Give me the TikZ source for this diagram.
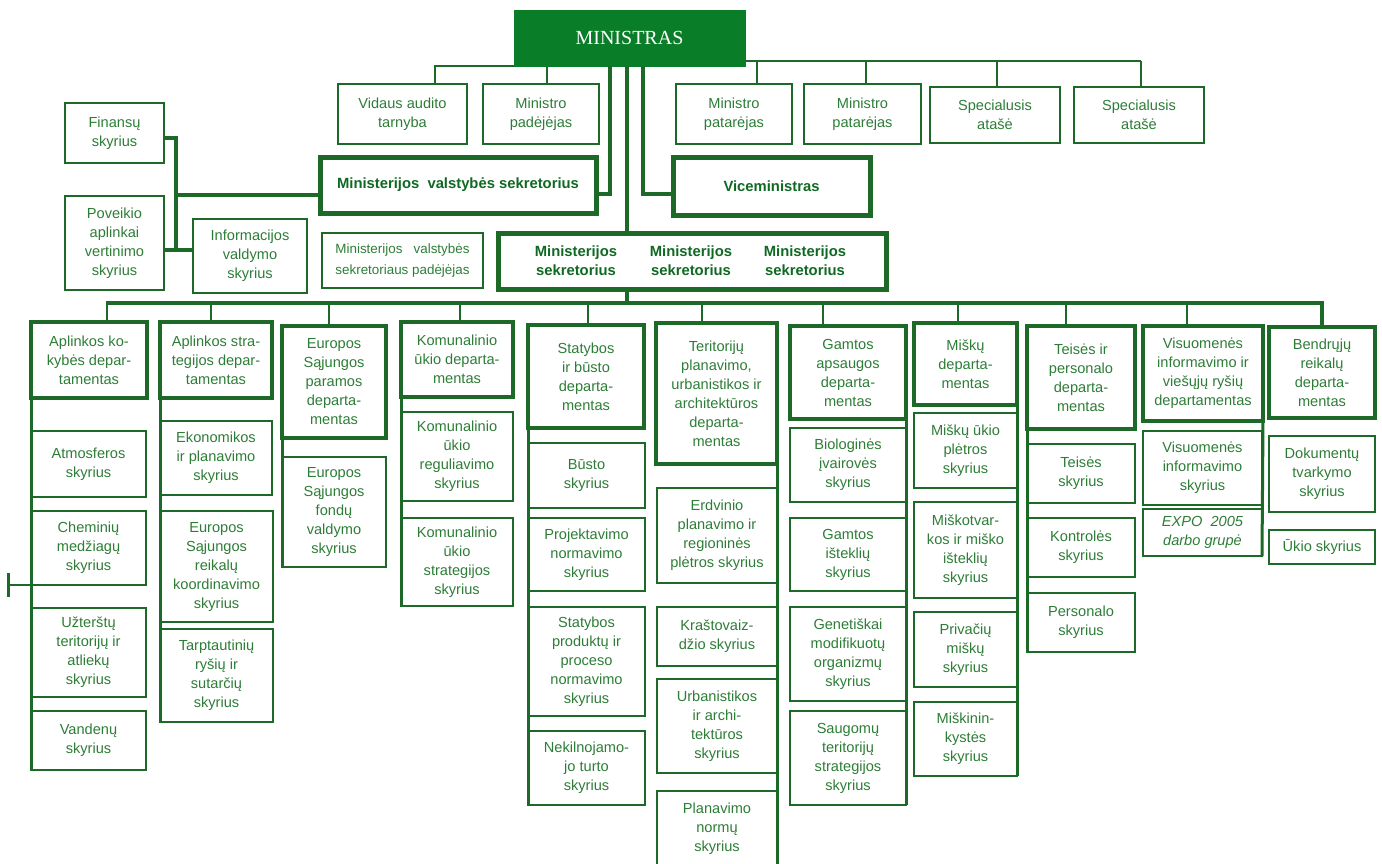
\documentclass[tikz,border=0pt]{standalone}
\usepackage{fontspec}
\setmainfont{Liberation Sans}
\newfontfamily\serifmin{Liberation Serif}
\usepackage{tikz}
\usetikzlibrary{calc}

\definecolor{minfill}{RGB}{10,125,40}
\definecolor{boxgreen}{RGB}{28,105,40}
\definecolor{txtgreen}{RGB}{45,125,55}
\definecolor{boldgreen}{RGB}{15,105,35}

\begin{document}
\begin{tikzpicture}[x=0.5pt,y=-0.5pt,
  corners/.code args={#1/#2/#3/#4}{%
    \pgfmathsetmacro\cw{(#3-#1)/2}\pgfmathsetmacro\ch{(#4-#2)/2}%
    \pgfmathsetmacro\cx{(#1+#3)/2}\pgfmathsetmacro\cy{(#2+#4)/2}%
    \edef\cset{\noexpand\pgfkeysalso{minimum width=\cw pt, minimum height=\ch pt, at={(\cx,\cy)}}}\cset},
  unitbox/.style={draw=boxgreen, line width=0.75pt, inner sep=0pt, outer sep=0pt, align=center, text=txtgreen, font=\fontsize{7.3}{9.5}\selectfont},
  deptbox/.style={unitbox, line width=2pt},
  chiefbox/.style={unitbox, line width=2.5pt, text=boldgreen, font=\bfseries\fontsize{7.4}{9.5}\selectfont},
  chieftext/.style={align=center, inner sep=0pt, text=boldgreen, font=\bfseries\fontsize{7.4}{9.5}\selectfont},
  thinline/.style={draw=boxgreen, line width=0.7pt},
  thickline/.style={draw=boxgreen, line width=2.3pt},
  dropline/.style={draw=boxgreen, line width=1pt},
  spine/.style={draw=boxgreen, line width=1.5pt}]
\useasboundingbox (0,0) rectangle (1382,863);

% ministras ir patarejai
\node[fill=minfill, draw=minfill, inner sep=0pt, outer sep=0pt, text=white, font=\serifmin\fontsize{10}{12}\selectfont, corners=514/10/745/66] (minister) {MINISTRAS};
\node[unitbox, corners=338/84/467/144] (vid) {Vidaus audito\\tarnyba};
\node[unitbox, corners=483/84/599/144] (madj) {Ministro\\padėjėjas};
\node[unitbox, corners=676/84/792/144] (mpat1) {Ministro\\patarėjas};
\node[unitbox, corners=804/84/921/144] (mpat2) {Ministro\\patarėjas};
\node[unitbox, corners=930/87/1060/143] (spec1) {Specialusis\\atašė};
\node[unitbox, corners=1074/87/1204/143] (spec2) {Specialusis\\atašė};

\node[unitbox, corners=65/103/164/163] (fin) {Finansų\\skyrius};
\node[unitbox, corners=65/196/164/290] (pov) {Poveikio\\aplinkai\\vertinimo\\skyrius};
\node[unitbox, corners=193/219/307/293] (info) {Informacijos\\valdymo\\skyrius};

\node[chiefbox, corners=320/157/596/213] (vss) {Ministerijos\ \ valstybės sekretorius};
\node[chiefbox, corners=673/157/870/215] (vice) {Viceministras};
\node[unitbox, font=\fontsize{6.7}{10.3}\selectfont, corners=322/233/483/288] (vadj) {Ministerijos\ \ \ valstybės\\sekretoriaus padėjėjas};
\node[chiefbox, corners=498/233/886/289] (mss) {};
\node[chieftext] (ms1) at (576,261) {Ministerijos\\sekretorius};
\node[chieftext] (ms2) at (691,261) {Ministerijos\\sekretorius};
\node[chieftext] (ms3) at (805,261) {Ministerijos\\sekretorius};

% virsutines jungtys
\coordinate (t1) at (435,66);
\coordinate (t2) at (547,66);
\draw[thinline] (minister.south west) -- (t1) -- (t1 |- vid.north);
\draw[thinline] (t2) -- (t2 |- madj.north);
\draw[thinline] (minister.east |- 0,61) -- (1141,61);
\foreach \x/\d in {757/mpat1,866/mpat2,997/spec1,1141/spec2}
  \draw[thinline] (\x,61) -- (\x,61 |- \d.north);

\coordinate (k1) at (610,194);
\coordinate (k2) at (643,194);
\coordinate (c1) at (627,303);
\draw[thickline] (k1 |- minister.south) -- (k1) -- (k1 -| vss.east);
\draw[thickline] (k2 |- minister.south) -- (k2) -- (k2 -| vice.west);
\draw[thickline] (c1 |- minister.south) -- (c1 |- mss.north);
\draw[thickline] (c1 |- mss.south) -- (c1);

\coordinate (f1) at (176,138);
\coordinate (f2) at (176,250);
\coordinate (f3) at (176,195);
\draw[thickline] (fin.east |- f1) -- (f1) -- (f2);
\draw[thickline] (pov.east |- f2) -- (info.west |- f2);
\draw[thickline] (f3) -- (f3 -| vss.west);

% departamentai
\node[deptbox, corners=31/322/147/398] (akd) {Aplinkos ko-\\kybės depar-\\tamentas};
\node[deptbox, corners=160/322/272/398] (asd) {Aplinkos stra-\\tegijos depar-\\tamentas};
\node[deptbox, corners=282/326/386/438] (esp) {Europos\\Sąjungos\\paramos\\departa-\\mentas};
\node[deptbox, corners=401/322/513/397] (kom) {Komunalinio\\ūkio departa-\\mentas};
\node[deptbox, corners=528/325/644/428] (stat) {Statybos\\ir būsto\\departa-\\mentas};
\node[deptbox, line width=1.6pt, corners=656/323/777/464] (ter) {Teritorijų\\planavimo,\\urbanistikos ir\\architektūros\\departa-\\mentas};
\node[deptbox, corners=790/326/906/419] (gam) {Gamtos\\apsaugos\\departa-\\mentas};
\node[deptbox, corners=914/323/1017/405] (misk) {Miškų\\departa-\\mentas};
\node[deptbox, corners=1027/326/1135/429] (teis) {Teisės ir\\personalo\\departa-\\mentas};
\node[deptbox, corners=1143/326/1263/421] (vis) {Visuomenės\\informavimo ir\\viešųjų ryšių\\departamentas};
\node[deptbox, corners=1269/327/1375/418] (bendr) {Bendrųjų\\reikalų\\departa-\\mentas};

\draw[thickline] (106,303) -- (1322,303) -- (1322,303 |- bendr.north);
\foreach \x/\d in {107/akd,211/asd,329/esp,460/kom,588/stat,702/ter,823/gam,958/misk,1066/teis,1187/vis}
  \draw[dropline] (\x,303) -- (\x,303 |- \d.north);

% skyriai
\node[unitbox, corners=31/431/146/497] (atm) {Atmosferos\\skyrius};
\node[unitbox, corners=31/511/146/585] (chem) {Cheminių\\medžiagų\\skyrius};
\node[unitbox, corners=31/608/146/697] (uzt) {Užterštų\\teritorijų ir\\atliekų\\skyrius};
\node[unitbox, corners=31/711/146/770] (vand) {Vandenų\\skyrius};

\node[unitbox, corners=160/421/272/495] (ekon) {Ekonomikos\\ir planavimo\\skyrius};
\node[unitbox, corners=160/511/273/622] (eskr) {Europos\\Sąjungos\\reikalų\\koordinavimo\\skyrius};
\node[unitbox, corners=160/629/273/722] (tarp) {Tarptautinių\\ryšių ir\\sutarčių\\skyrius};

\node[unitbox, corners=282/457/386/567] (esf) {Europos\\Sąjungos\\fondų\\valdymo\\skyrius};

\node[unitbox, corners=401/412/513/501] (komreg) {Komunalinio\\ūkio\\reguliavimo\\skyrius};
\node[unitbox, corners=401/518/513/606] (komstr) {Komunalinio\\ūkio\\strategijos\\skyrius};

\node[unitbox, corners=528/443/645/508] (bust) {Būsto\\skyrius};
\node[unitbox, corners=528/518/645/591] (proj) {Projektavimo\\normavimo\\skyrius};
\node[unitbox, corners=528/607/645/716] (sprod) {Statybos\\produktų ir\\proceso\\normavimo\\skyrius};
\node[unitbox, corners=528/731/645/805] (nek) {Nekilnojamo-\\jo turto\\skyrius};

\node[unitbox, corners=657/488/777/583] (erdv) {Erdvinio\\planavimo ir\\regioninės\\plėtros skyrius};
\node[unitbox, corners=657/607/777/666] (krast) {Kraštovaiz-\\džio skyrius};
\node[unitbox, corners=657/679/777/773] (urb) {Urbanistikos\\ir archi-\\tektūros\\skyrius};
\node[unitbox, corners=657/791/777/866] (plan) {Planavimo\\normų\\skyrius};

\node[unitbox, corners=790/428/906/502] (bio) {Biologinės\\įvairovės\\skyrius};
\node[unitbox, corners=790/518/906/591] (gist) {Gamtos\\išteklių\\skyrius};
\node[unitbox, corners=790/607/906/701] (gmo) {Genetiškai\\modifikuotų\\organizmų\\skyrius};
\node[unitbox, corners=790/711/906/805] (saug) {Saugomų\\teritorijų\\strategijos\\skyrius};

\node[unitbox, corners=914/413/1017/488] (mukp) {Miškų ūkio\\plėtros\\skyrius};
\node[unitbox, corners=914/502/1017/598] (mtv) {Miškotvar-\\kos ir miško\\išteklių\\skyrius};
\node[unitbox, corners=914/612/1017/687] (priv) {Privačių\\miškų\\skyrius};
\node[unitbox, corners=914/702/1017/776] (mkin) {Miškinin-\\kystės\\skyrius};

\node[unitbox, corners=1027/444/1135/503] (teiss) {Teisės\\skyrius};
\node[unitbox, corners=1027/518/1135/577] (kontr) {Kontrolės\\skyrius};
\node[unitbox, corners=1027/593/1135/652] (pers) {Personalo\\skyrius};

\node[unitbox, corners=1143/431/1262/505] (visinf) {Visuomenės\\informavimo\\skyrius};
\node[unitbox, font=\itshape\fontsize{7.3}{9.5}\selectfont, corners=1143/509/1262/556] (expo) {EXPO\ \ 2005\\darbo grupė};

\node[unitbox, corners=1269/436/1375/512] (dok) {Dokumentų\\tvarkymo\\skyrius};
\node[unitbox, corners=1269/530/1375/564] (ukio) {Ūkio skyrius};

% vertikalios linijos
\draw[spine] (akd.south west) -- (vand.south west);
\draw[spine] (asd.south west) -- (tarp.south west);
\draw[spine] (esp.south west) -- (esf.south west);
\draw[spine] (kom.south west) -- (komstr.south west);
\draw[spine] (stat.south west) -- (nek.south west);
\draw[spine] (ter.south east) -- (plan.south east);
\draw[spine] (gam.south east) -- (saug.south east);
\draw[spine] (misk.south east) -- (mkin.south east);
\draw[spine] (teis.south west) -- (pers.south west);
\draw[spine] (vis.south east) -- (expo.south east);

\draw[spine] (8,573) -- (8,597);
\draw[thinline] (8,585) -- (chem.south west);
\end{tikzpicture}
\end{document}
